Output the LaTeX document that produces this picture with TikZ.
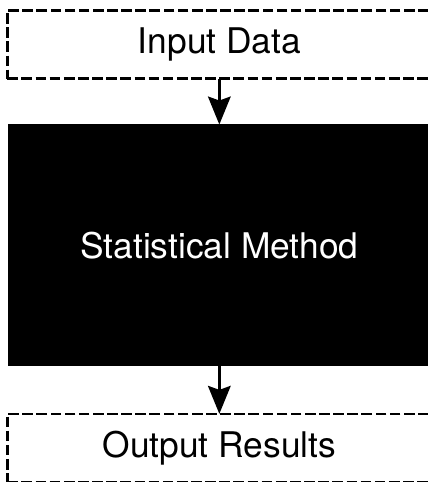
\documentclass[tikz,border=0pt]{standalone}
\usepackage{fontspec}
\setmainfont{TeX Gyre Heros}
\usetikzlibrary{positioning,arrows.meta}

\tikzset{
    iobox/.style={draw, line width=1.8pt, dash pattern=on 8pt off 2.6pt,
        minimum width=318pt, minimum height=51pt, outer sep=0pt,
        font=\fontsize{26.5}{30}\selectfont},
    blackbox/.style={draw, fill=black, text=white, line width=0pt,
        minimum width=316pt, minimum height=181pt, outer sep=0pt,
        font=\fontsize{26.5}{30}\selectfont},
    flow/.style={-{Stealth[length=21pt,width=17pt,inset=3pt]}, line width=1.8pt}
}

\begin{document}
\begin{tikzpicture}

    % 画布范围
    \useasboundingbox (0,0) rectangle (321pt,-361.5pt);

    % 三个框
    \node[iobox] (input) at (164.5pt,-33.4pt) {Input Data};
    \node[blackbox, below=34.5pt of input] (method) {Statistical Method};
    \node[iobox, below=36pt of method] (output) {Output Results};

    % 连线
    \draw[flow] (input) -- (method);
    \draw[flow] (method) -- (output);

\end{tikzpicture}
\end{document}
